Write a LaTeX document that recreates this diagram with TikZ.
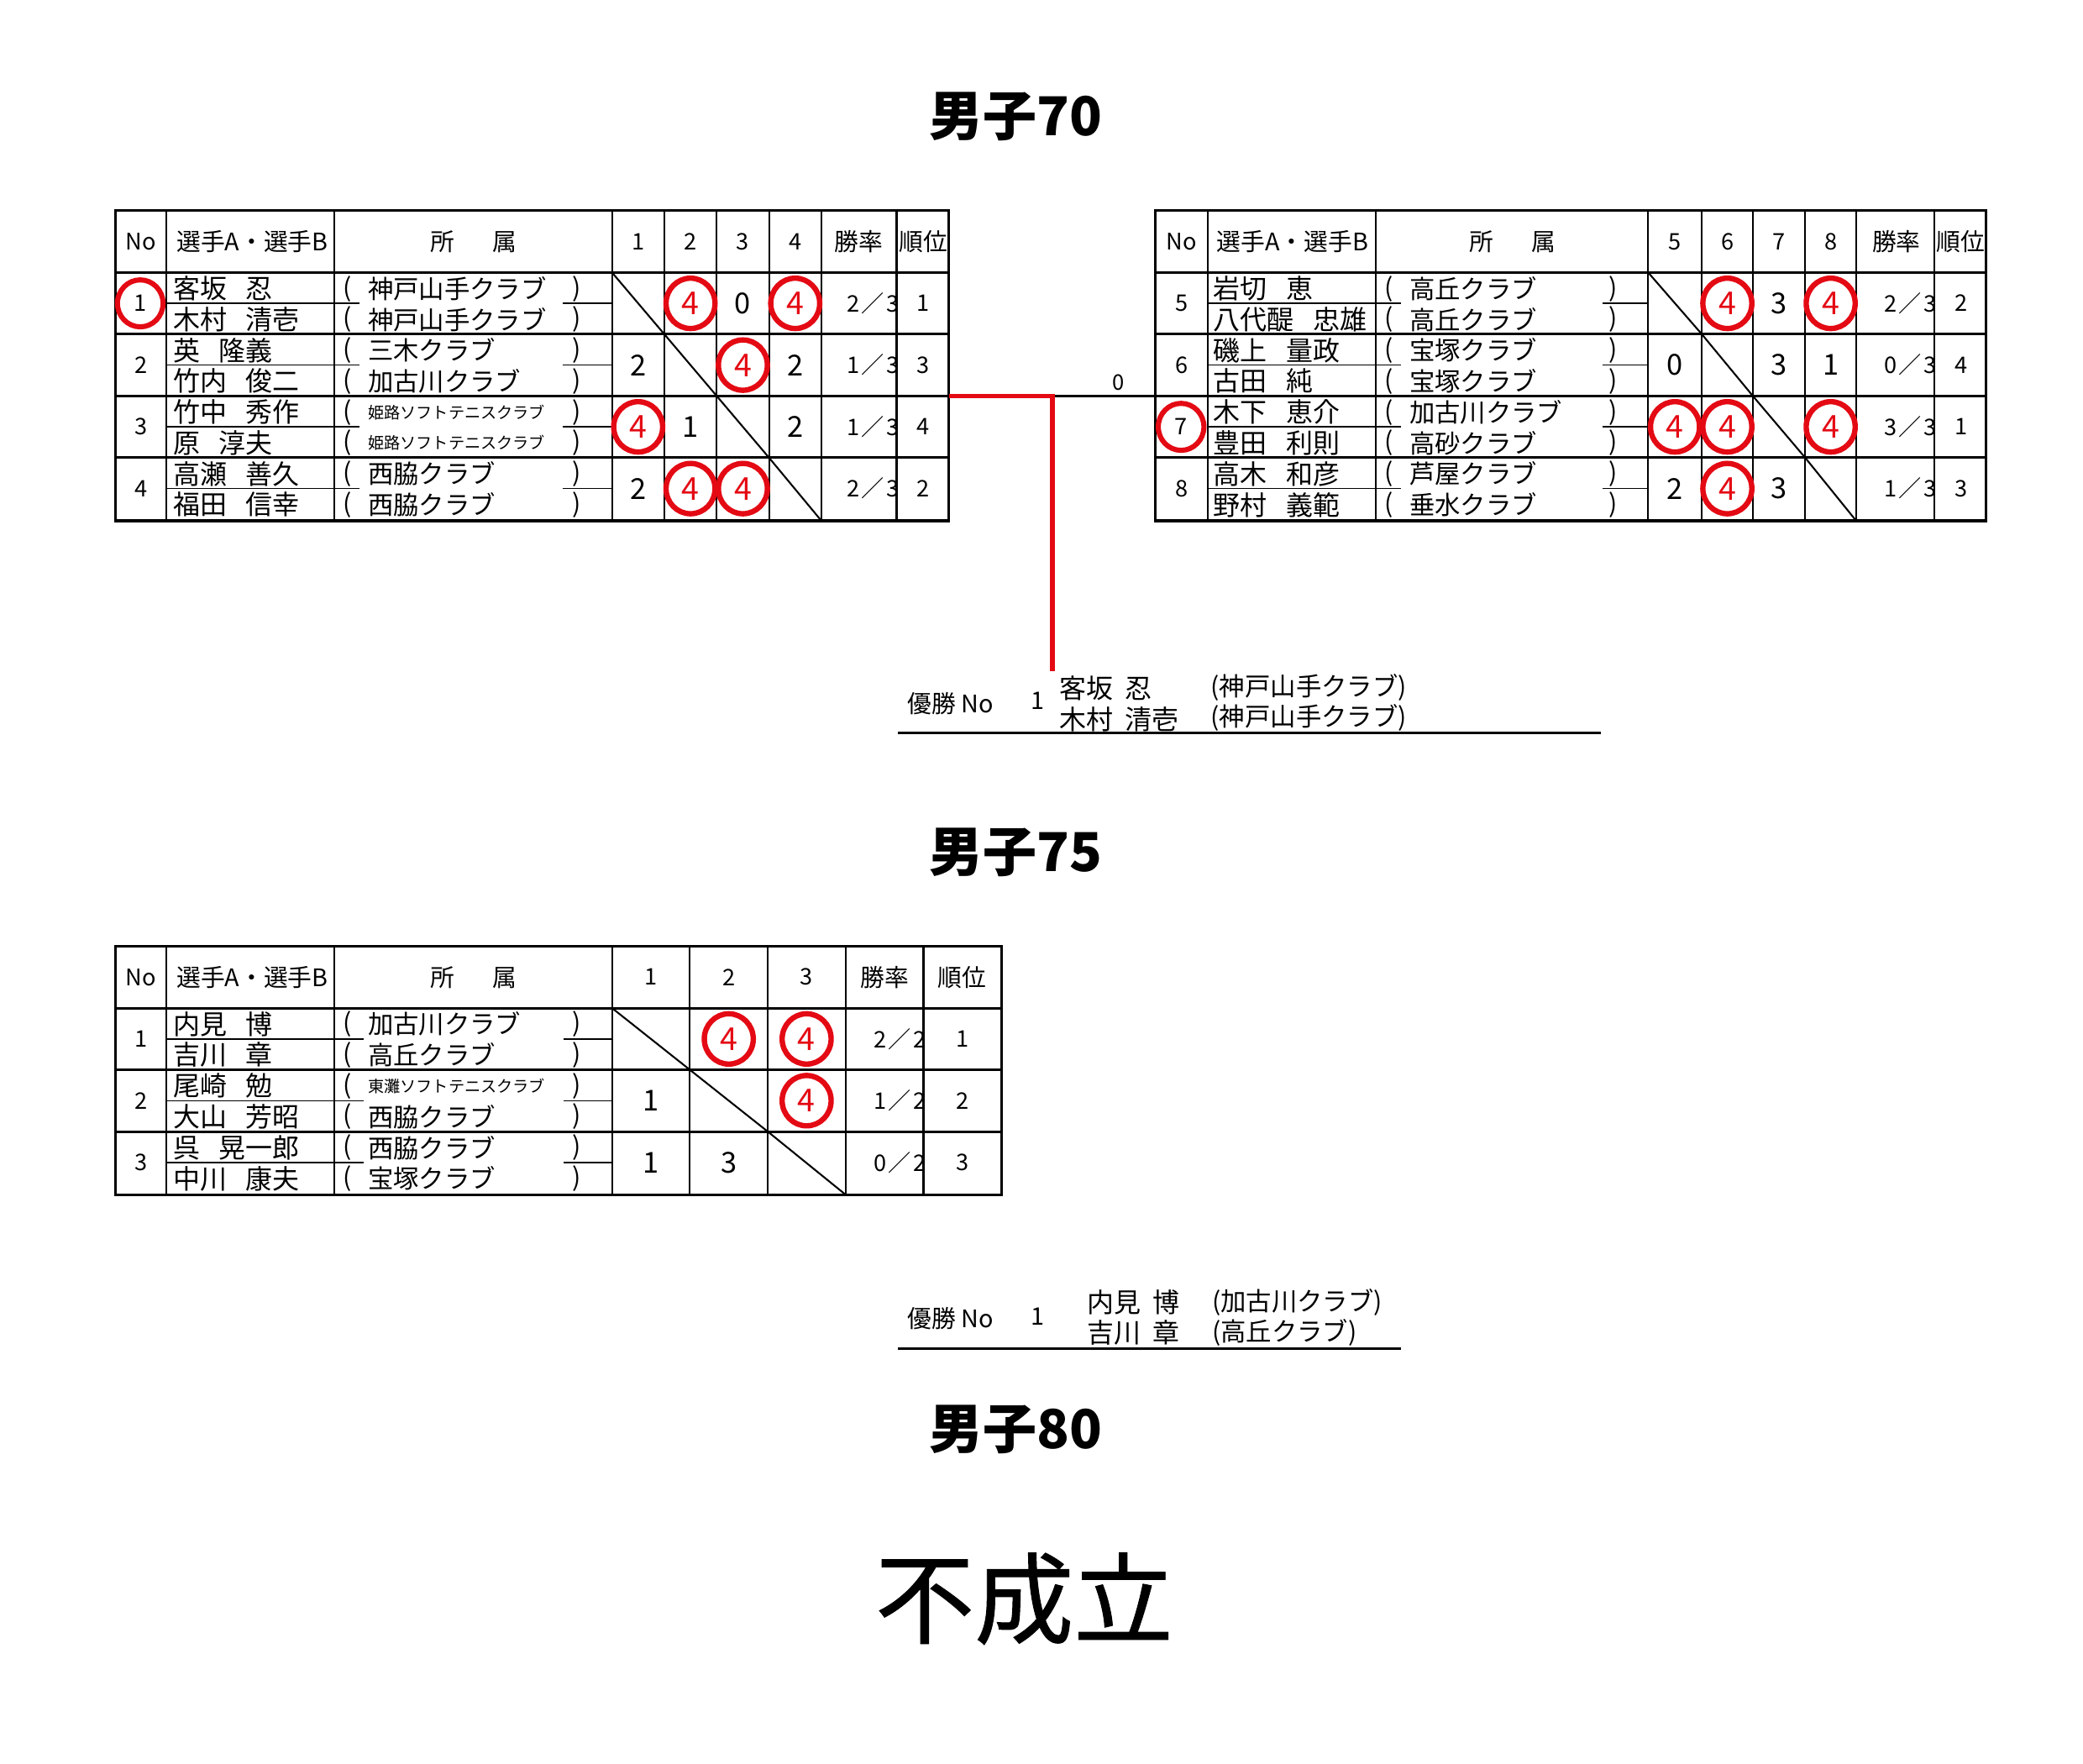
\documentclass[tikz,border=0pt]{standalone}
\usepackage{fontspec}
\setmainfont{Noto Sans CJK JP}
\newfontfamily\heavyjp[FakeBold=0.8]{Noto Sans CJK JP}
\usetikzlibrary{shapes.geometric}
\definecolor{mred}{RGB}{228,10,20}
\newcommand\fsz[1]{\fontsize{#1}{#1}\selectfont}
\newcommand\nsp{\hskip 0.7em}
\newcommand\rat[2]{#1\hskip 1.5pt／\hskip 1.5pt#2}
\newcommand\pn[4]{\node[nm] at (#1,#2) {#3}; \node[nm] at (#1,#2+23) {#4};}
\newcommand\pa[5]{%
 \node[par] at (#1+10,#3) {(}; \node[af] at (#1+25,#3) {#4}; \node[par] at (#2-26,#3) {)};
 \node[par] at (#1+10,#3+23) {(}; \node[af] at (#1+25,#3+23) {#5}; \node[par] at (#2-26,#3+23) {)};}
\begin{document}
\begin{tikzpicture}[x=1pt,y=-1pt,
 thk/.style={line width=1.9pt},
 inr/.style={line width=1.4pt},
 thn/.style={line width=0.9pt},
 diag/.style={line width=1.3pt},
 hd/.style={inner sep=0pt,font=\fsz{18}},
 hdn/.style={inner sep=0pt,font=\fsz{17}},
 nm/.style={inner sep=0pt,anchor=west,font=\fsz{20}},
 af/.style={inner sep=0pt,anchor=west,font=\fsz{19}},
 par/.style={inner sep=0pt,font=\fsz{19}},
 sc/.style={inner sep=0pt,font=\fsz{21.5}},
 circ/.style={draw=mred,line width=4pt,ellipse,minimum width=36.5pt,minimum height=37.5pt,inner sep=0pt,text=mred,font=\fsz{23.5}},
 circn/.style={draw=mred,line width=3.8pt,ellipse,minimum width=34pt,minimum height=35pt,inner sep=0pt,font=\fsz{17}},
 rt/.style={inner sep=0pt,anchor=east,font=\fsz{17}},
 rk/.style={inner sep=0pt,font=\fsz{17}},
 ttl/.style={inner sep=0pt,font=\bfseries\fsz{40}},
 win/.style={inner sep=0pt,anchor=west,font=\fsz{18}},
 wnm/.style={inner sep=0pt,anchor=west,font=\fsz{20}},
 waf/.style={inner sep=0pt,anchor=west,font=\fsz{19}},
 ]
\fill[white] (0,0) rectangle (1552,1314);
\useasboundingbox (0,0) rectangle (1552,1314);

% ---------- titles ----------
\node[ttl] (t70) at (757,87) {男子70};
\node[ttl] (t75) at (757,635) {男子75};
\node[ttl] (t80) at (757,1065) {男子80};
\node[inner sep=0pt,font=\heavyjp\fsz{74}] (fsr) at (763,1191) {不成立};

% ---------- left table 70 ----------
\draw[thk] (86,157) rectangle (707,388);
\foreach \y in {203,249,295,341} \draw[thk] (86,\y) -- (707,\y);
\foreach \x in {124,249,456,495,534,573,612,668} \draw[inr] (\x,157) -- (\x,388);
\foreach \y in {226,272,318,364} {\draw[thn] (124,\y) -- (268,\y); \draw[thn] (419,\y) -- (456,\y);}
\draw[diag] (456,203) -- (495,249) -- (534,295) -- (573,341) -- (612,388);
\node[hdn] (lh0) at (105,180) {No};
\node[hd] (lh1) at (188,180) {選手A・選手B};
\node[hd] (lh2) at (353,180) {所\hskip 28pt 属};
\node[hdn] (lh3) at (475.5,180) {1};
\node[hdn] (lh4) at (514.5,180) {2};
\node[hdn] (lh5) at (553.5,180) {3};
\node[hdn] (lh6) at (592.5,180) {4};
\node[hd] (lh7) at (640,180) {勝率};
\node[hd] (lh8) at (688,180) {順位};
% row 1
\node[circn] (ln1) at (104.5,226) {1};
\pn{129}{215}{客坂\nsp 忍}{木村\nsp 清壱}
\pa{249}{456}{215}{神戸山手クラブ}{神戸山手クラブ}
\node[circ] (l12) at (514.5,226) {4};
\node[sc] (l13) at (553.5,226) {0};
\node[circ] (l14) at (592.5,226) {4};
\node[rt] (l1r) at (670,226) {\rat{2}{3}};
\node[rk] (l1k) at (688,226) {1};
% row 2
\node[rk] (ln2) at (105,272) {2};
\pn{129}{261}{英\nsp 隆義}{竹内\nsp 俊二}
\pa{249}{456}{261}{三木クラブ}{加古川クラブ}
\node[sc] (l21) at (475.5,272) {2};
\node[circ] (l23) at (553.5,272) {4};
\node[sc] (l24) at (592.5,272) {2};
\node[rt] (l2r) at (670,272) {\rat{1}{3}};
\node[rk] (l2k) at (688,272) {3};
% row 3
\node[rk] (ln3) at (105,318) {3};
\pn{129}{307}{竹中\nsp 秀作}{原\nsp 淳夫}
\pa{249}{456}{307}{{\fsz{12}姫路ソフトテニスクラブ}}{{\fsz{12}姫路ソフトテニスクラブ}}
\node[circ] (l31) at (475.5,318) {4};
\node[sc] (l32) at (514.5,318) {1};
\node[sc] (l34) at (592.5,318) {2};
\node[rt] (l3r) at (670,318) {\rat{1}{3}};
\node[rk] (l3k) at (688,318) {4};
% row 4
\node[rk] (ln4) at (105,364) {4};
\pn{129}{353}{高瀬\nsp 善久}{福田\nsp 信幸}
\pa{249}{456}{353}{西脇クラブ}{西脇クラブ}
\node[sc] (l41) at (475.5,364) {2};
\node[circ] (l42) at (514.5,364) {4};
\node[circ] (l43) at (553.5,364) {4};
\node[rt] (l4r) at (670,364) {\rat{2}{3}};
\node[rk] (l4k) at (688,364) {2};

% ---------- right table 70 ----------
\draw[thk] (861,157) rectangle (1480,388);
\foreach \y in {203,249,295,341} \draw[thk] (861,\y) -- (1480,\y);
\foreach \x in {900,1025,1228,1268,1306,1345,1383,1441} \draw[inr] (\x,157) -- (\x,388);
\foreach \y in {226,272,318,364} {\draw[thn] (900,\y) -- (1044,\y); \draw[thn] (1194,\y) -- (1228,\y);}
\draw[diag] (1228,203) -- (1268,249) -- (1306,295) -- (1345,341) -- (1383,388);
\node[hdn] (rh0) at (880.5,180) {No};
\node[hd] (rh1) at (963,180) {選手A・選手B};
\node[hd] (rh2) at (1127,180) {所\hskip 28pt 属};
\node[hdn] (rh3) at (1248,180) {5};
\node[hdn] (rh4) at (1287,180) {6};
\node[hdn] (rh5) at (1325.5,180) {7};
\node[hdn] (rh6) at (1364,180) {8};
\node[hd] (rh7) at (1413,180) {勝率};
\node[hd] (rh8) at (1461,180) {順位};
% row 5
\node[rk] (rn5) at (880.5,226) {5};
\pn{904}{215}{岩切\nsp 恵}{八代醍\nsp 忠雄}
\pa{1025}{1228}{215}{高丘クラブ}{高丘クラブ}
\node[circ] (r56) at (1287,226) {4};
\node[sc] (r57) at (1325.5,226) {3};
\node[circ] (r58) at (1364,226) {4};
\node[rt] (r5r) at (1443,226) {\rat{2}{3}};
\node[rk] (r5k) at (1461,226) {2};
% row 6
\node[rk] (rn6) at (880.5,272) {6};
\pn{904}{261}{磯上\nsp 量政}{古田\nsp 純}
\pa{1025}{1228}{261}{宝塚クラブ}{宝塚クラブ}
\node[sc] (r65) at (1248,272) {0};
\node[sc] (r67) at (1325.5,272) {3};
\node[sc] (r68) at (1364,272) {1};
\node[rt] (r6r) at (1443,272) {\rat{0}{3}};
\node[rk] (r6k) at (1461,272) {4};
% row 7
\node[circn] (rn7) at (880,318) {7};
\pn{904}{307}{木下\nsp 恵介}{豊田\nsp 利則}
\pa{1025}{1228}{307}{加古川クラブ}{高砂クラブ}
\node[circ] (r75) at (1248,318) {4};
\node[circ] (r76) at (1287,318) {4};
\node[circ] (r78) at (1364,318) {4};
\node[rt] (r7r) at (1443,318) {\rat{3}{3}};
\node[rk] (r7k) at (1461,318) {1};
% row 8
\node[rk] (rn8) at (880.5,364) {8};
\pn{904}{353}{高木\nsp 和彦}{野村\nsp 義範}
\pa{1025}{1228}{353}{芦屋クラブ}{垂水クラブ}
\node[sc] (r85) at (1248,364) {2};
\node[circ] (r86) at (1287,364) {4};
\node[sc] (r87) at (1325.5,364) {3};
\node[rt] (r8r) at (1443,364) {\rat{1}{3}};
\node[rk] (r8k) at (1461,364) {3};

% ---------- final bracket 70 ----------
\coordinate (L70r) at (707,295);
\coordinate (jn) at (784,295);
\coordinate (R70l) at (861,295);
\coordinate (wtop) at (784,500);
\draw[line width=1.9pt] (jn) -- (R70l);
\draw[mred,line width=3.5pt] (L70r) -- (jn) -- (wtop);
\node[inner sep=0pt,font=\fsz{16}] (fs0) at (833,285) {0};

% ---------- winner 70 ----------
\node[win] (w70a) at (676,524) {優勝 No};
\node[win] (w70b) at (768,522) {1};
\node[wnm] (w70c) at (789,513) {客坂\hskip 0.45em 忍};
\node[wnm] (w70d) at (789,536) {木村\hskip 0.45em 清壱};
\node[waf] (w70e) at (902,512) {(神戸山手クラブ)};
\node[waf] (w70f) at (902,535) {(神戸山手クラブ)};
\coordinate (u70a) at (669,546);
\coordinate (u70b) at (1193,546);
\draw[line width=1.9pt] (u70a) -- (u70b);

% ---------- table 75 ----------
\draw[thk] (86,705) rectangle (746,890);
\foreach \y in {751,797,843} \draw[thk] (86,\y) -- (746,\y);
\foreach \x in {124,249,456,514,572,630,688} \draw[inr] (\x,705) -- (\x,890);
\foreach \y in {774,820,866} {\draw[thn] (124,\y) -- (271,\y); \draw[thn] (420,\y) -- (456,\y);}
\draw[diag] (456,751) -- (514,797) -- (572,843) -- (630,890);
\node[hdn] (mh0) at (105,728) {No};
\node[hd] (mh1) at (188,728) {選手A・選手B};
\node[hd] (mh2) at (353,728) {所\hskip 28pt 属};
\node[hdn] (mh3) at (485,728) {1};
\node[hdn] (mh4) at (543,728) {2};
\node[hdn] (mh5) at (601,728) {3};
\node[hd] (mh6) at (659,728) {勝率};
\node[hd] (mh7) at (717,728) {順位};
% row 1
\node[rk] (mn1) at (105,774) {1};
\pn{129}{763}{内見\nsp 博}{吉川\nsp 章}
\pa{249}{456}{763}{加古川クラブ}{高丘クラブ}
\node[circ] (m12) at (543,774) {4};
\node[circ] (m13) at (601,774) {4};
\node[rt] (m1r) at (690,774) {\rat{2}{2}};
\node[rk] (m1k) at (717,774) {1};
% row 2
\node[rk] (mn2) at (105,820) {2};
\pn{129}{809}{尾崎\nsp 勉}{大山\nsp 芳昭}
\pa{249}{456}{809}{{\fsz{12}東灘ソフトテニスクラブ}}{西脇クラブ}
\node[sc] (m21) at (485,820) {1};
\node[circ] (m23) at (601,820) {4};
\node[rt] (m2r) at (690,820) {\rat{1}{2}};
\node[rk] (m2k) at (717,820) {2};
% row 3
\node[rk] (mn3) at (105,866) {3};
\pn{129}{855}{呉\nsp 晃一郎}{中川\nsp 康夫}
\pa{249}{456}{855}{西脇クラブ}{宝塚クラブ}
\node[sc] (m31) at (485,866) {1};
\node[sc] (m32) at (543,866) {3};
\node[rt] (m3r) at (690,866) {\rat{0}{2}};
\node[rk] (m3k) at (717,866) {3};

% ---------- winner 75 ----------
\node[win] (w75a) at (676,982) {優勝 No};
\node[win] (w75b) at (768,981) {1};
\node[wnm] (w75c) at (810,970) {内見\hskip 0.45em 博};
\node[wnm] (w75d) at (810,993) {吉川\hskip 0.45em 章};
\node[waf] (w75e) at (903,970) {(加古川クラブ)};
\node[waf] (w75f) at (903,993) {(高丘クラブ)};
\coordinate (u75a) at (669,1005);
\coordinate (u75b) at (1044,1005);
\draw[line width=1.9pt] (u75a) -- (u75b);
\end{tikzpicture}
\end{document}
